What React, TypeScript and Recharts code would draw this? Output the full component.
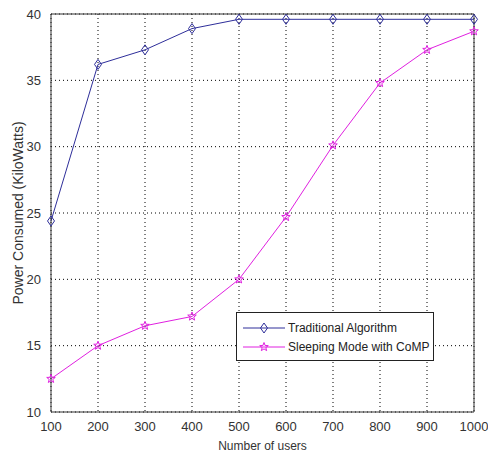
import React from "react";
import { CartesianGrid, Line, LineChart, ReferenceLine, XAxis, YAxis } from "recharts";

const users = [100, 200, 300, 400, 500, 600, 700, 800, 900, 1000];
const traditional = [24.4, 36.2, 37.3, 38.9, 39.6, 39.6, 39.6, 39.6, 39.6, 39.6];
const sleeping = [12.5, 15.0, 16.5, 17.2, 20.0, 24.7, 30.1, 34.8, 37.3, 38.7];
const yTicks = [10, 15, 20, 25, 30, 35, 40];

const data = users.map((u, i) => ({ users: u, traditional: traditional[i], sleeping: sleeping[i] }));

const BLUE = "#2e2e9a";
const MAGENTA = "#e020e0";
const FONT = "'Liberation Sans', Arial, sans-serif";

function Diamond({ cx, cy }: any) {
  if (cx == null || cy == null) return null;
  return (
    <path
      d={`M${cx},${cy - 5} L${cx + 3.5},${cy} L${cx},${cy + 5} L${cx - 3.5},${cy} Z`}
      fill="none"
      stroke={BLUE}
      strokeWidth={1}
    />
  );
}

function starPath(cx: number, cy: number, r: number) {
  const pts: string[] = [];
  for (let i = 0; i < 10; i++) {
    const rr = i % 2 === 0 ? r : r * 0.42;
    const a = -Math.PI / 2 + (i * Math.PI) / 5;
    pts.push(`${cx + rr * Math.cos(a)},${cy + rr * Math.sin(a)}`);
  }
  return "M" + pts.join(" L") + " Z";
}

function Star({ cx, cy }: any) {
  if (cx == null || cy == null) return null;
  return <path d={starPath(cx, cy, 4.5)} fill="none" stroke={MAGENTA} strokeWidth={1} />;
}

const legendItems = [
  { label: "Traditional Algorithm", color: BLUE, kind: "d" },
  { label: "Sleeping Mode with CoMP", color: MAGENTA, kind: "s" },
];

function LegendBox() {
  return (
    <div
      style={{
        position: "absolute",
        left: 236,
        top: 312,
        border: "1px solid #222",
        background: "#fff",
        width: 198,
        height: 49,
        fontFamily: FONT,
        fontSize: 12,
        color: "#222",
        boxSizing: "border-box",
        paddingTop: 5,
        whiteSpace: "nowrap",
      }}
    >
      {legendItems.map((it) => (
        <div key={it.label} style={{ display: "flex", alignItems: "center", height: 19 }}>
          <svg width={44} height={14} style={{ marginLeft: 6, flexShrink: 0 }}>
            <line x1={0} y1={7} x2={42} y2={7} stroke={it.color} />
            {it.kind === "d" ? <Diamond cx={21} cy={7} /> : <Star cx={21} cy={7} />}
          </svg>
          <span style={{ marginLeft: 1 }}>{it.label}</span>
        </div>
      ))}
    </div>
  );
}

export default function App() {
  const tick = { fill: "#333", fontSize: 13, fontFamily: FONT };
  return (
    <div style={{ position: "absolute", left: 0, top: 0, width: 488, height: 453, background: "#fff" }}>
      <LineChart width={488} height={453} data={data} margin={{ top: 14, right: 14, left: 0, bottom: 0 }}>
        <CartesianGrid stroke="#000" strokeDasharray="1 3" />
        <XAxis
          dataKey="users"
          type="number"
          domain={[100, 1000]}
          ticks={users}
          height={41}
          tick={tick}
          tickLine={false}
          axisLine={{ stroke: "#333" }}
          tickMargin={4}
          label={{ value: "Number of users", position: "insideBottom", offset: 3, style: { ...tick, fontSize: 12 } }}
        />
        <YAxis
          type="number"
          domain={[10, 40]}
          ticks={yTicks}
          width={51}
          tick={tick}
          tickLine={false}
          axisLine={{ stroke: "#333" }}
          tickMargin={4}
          label={{
            value: "Power Consumed (KiloWatts)",
            angle: -90,
            position: "insideLeft",
            offset: 18,
            style: { ...tick, fontSize: 14, textAnchor: "middle" },
          }}
        />
        <ReferenceLine y={40} stroke="#333" />
        <ReferenceLine x={1000} stroke="#333" />
        <Line
          type="linear"
          dataKey="traditional"
          stroke={BLUE}
          strokeWidth={1}
          dot={<Diamond />}
          isAnimationActive={false}
        />
        <Line
          type="linear"
          dataKey="sleeping"
          stroke={MAGENTA}
          strokeWidth={1}
          dot={<Star />}
          isAnimationActive={false}
        />
      </LineChart>
      <LegendBox />
    </div>
  );
}
